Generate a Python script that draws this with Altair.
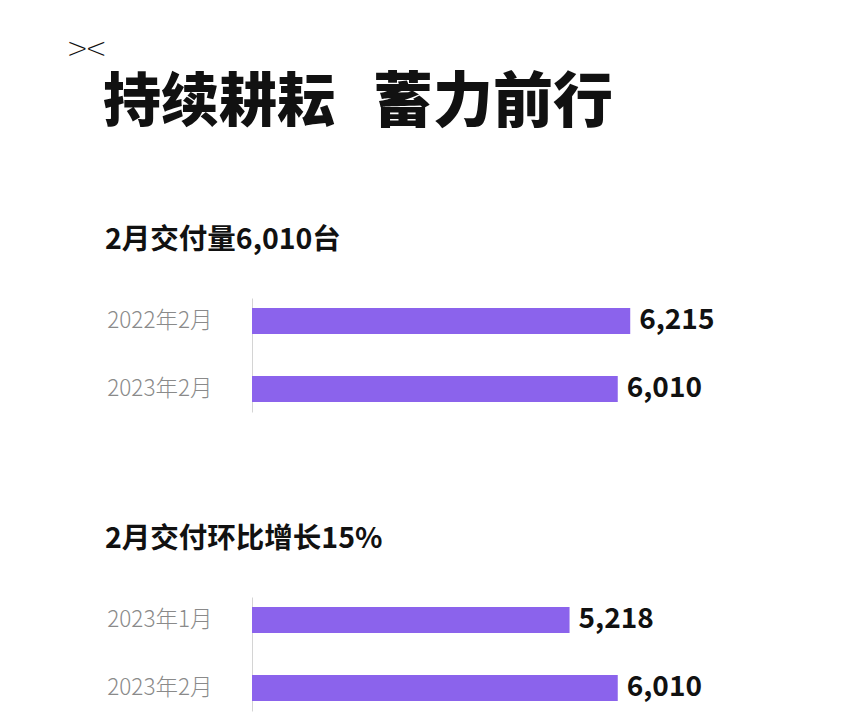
import altair as alt
import pandas as pd

logo_text = ["><"]
main_title = ["持续耕耘", "蓄力前行"]
subtitles = ["2月交付量6,010台", "2月交付环比增长15%"]
panel1_labels = ["2022年2月", "2023年2月"]
panel1_values = [6215, 6010]
panel2_labels = ["2023年1月", "2023年2月"]
panel2_values = [5218, 6010]

FONT = "Noto Sans CJK SC"
BAR = "#8b63ec"
W = 426

logo = alt.Chart(pd.DataFrame({"t": logo_text})).mark_text(
    align="left", baseline="middle", font=FONT, fontSize=36, fontWeight=100, color="#111"
).encode(text="t:N", x=alt.value(-184), y=alt.value(21))

title1 = alt.Chart(pd.DataFrame({"t": main_title[:1]})).mark_text(
    align="left", baseline="middle", font=FONT, fontSize=58, fontWeight=900, color="#111"
).encode(text="t:N", x=alt.value(-149), y=alt.value(74))

title2 = alt.Chart(pd.DataFrame({"t": main_title[1:]})).mark_text(
    align="left", baseline="middle", font=FONT, fontSize=60, fontWeight=900, color="#111"
).encode(text="t:N", x=alt.value(121), y=alt.value(74))

header = alt.layer(logo, title1, title2).properties(width=W, height=83)


def panel(labels, values, sub):
    df = pd.DataFrame({"label": labels, "value": values})
    base = alt.Chart(df).encode(
        y=alt.Y(
            "label:N",
            sort=labels,
            title=None,
            scale=alt.Scale(paddingInner=0.6176, paddingOuter=0.147),
            axis=alt.Axis(
                ticks=False,
                domainColor="#d4d4d4",
                domainWidth=1,
                labelFont=FONT,
                labelFontSize=22.5,
                labelFontWeight=300,
                labelColor="#8a8a8a",
                labelPadding=40,
                grid=False,
            ),
        ),
        x=alt.X("value:Q", scale=alt.Scale(domain=[0, 7000]), axis=None),
    )
    bars = base.mark_bar(color=BAR)
    text = base.mark_text(
        align="left", baseline="middle", dx=9, font=FONT, fontSize=28,
        fontWeight="bold", color="#111"
    ).encode(text=alt.Text("value:Q", format=","))
    return alt.layer(bars, text).properties(
        width=W,
        height=114,
        title=alt.TitleParams(
            text=sub,
            anchor="start",
            frame="group",
            dx=-147,
            offset=44,
            font=FONT,
            fontSize=28.5,
            fontWeight="bold",
            color="#111",
        ),
    )


p1 = panel(panel1_labels, panel1_values, subtitles[0])
p2 = panel(panel2_labels, panel2_values, subtitles[1])

chart = alt.vconcat(header, p1, p2, spacing=185, bounds="flush").properties(
    padding={"left": 60, "top": 22, "right": 10, "bottom": 5},
    background="white",
).configure_view(stroke=None)

chart.save("out.html", embed_options={"renderer": "svg", "actions": False})
